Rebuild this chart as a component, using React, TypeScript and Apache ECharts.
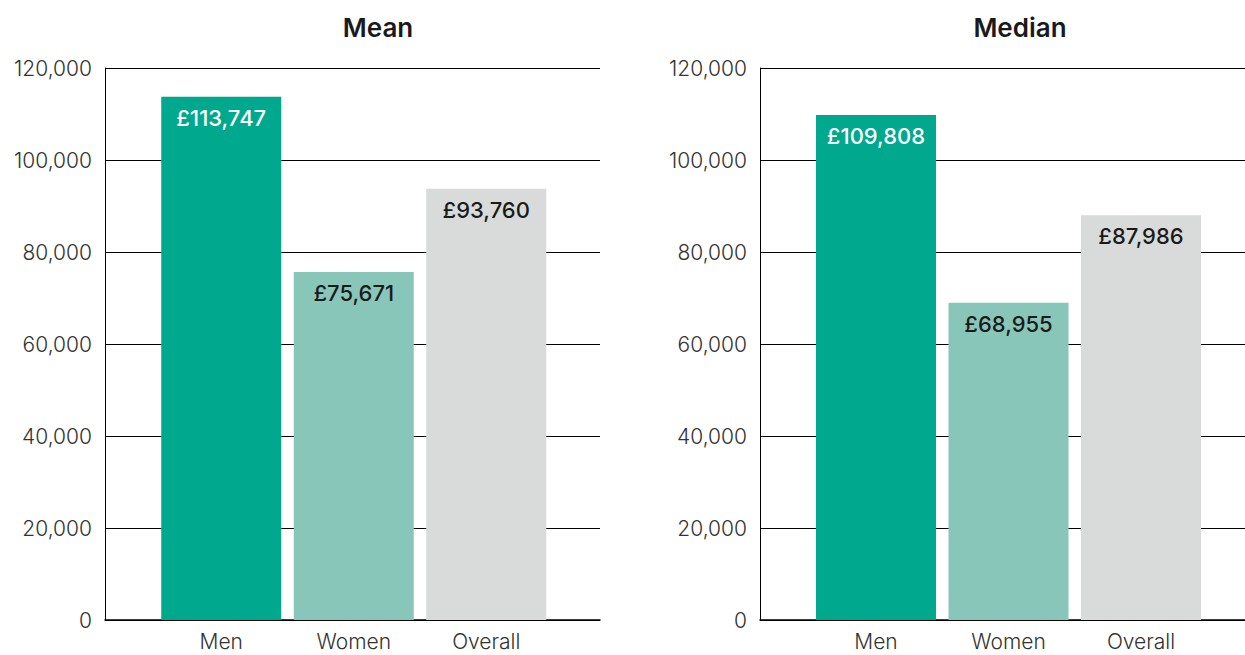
import React, { useEffect, useRef } from "react";
import * as echarts from "echarts";

const categories = ["Men", "Women", "Overall"];
const meanValues = [113747, 75671, 93760];
const medianValues = [109808, 68955, 87986];
const panelTitles = ["Mean", "Median"];
const barColors = ["#00a88e", "#88c6ba", "#d9dada"];
const labelColors = ["#ffffff", "#1a1a1a", "#1a1a1a"];

const fmt = (v: number) => "£" + String(v).replace(/\B(?=(\d{3})+(?!\d))/g, ",");
const axisFmt = (v: number) => String(v).replace(/\B(?=(\d{3})+(?!\d))/g, ",");

const FONT = "Inter";

export default function App() {
  const ref = useRef<HTMLDivElement>(null);
  useEffect(() => {
    document.body.style.margin = "0";
    const chart = echarts.init(ref.current!, null, { renderer: "svg" });
    const outerGrids = [
      { left: 105, width: 495, top: 68, bottom: 35 },
      { left: 760, width: 485, top: 68, bottom: 35 },
    ];
    const innerGrids = [
      { left: 155, width: 397.5, top: 68, bottom: 35 },
      { left: 809.75, width: 397.5, top: 68, bottom: 35 },
    ];
    const grid = [...outerGrids, ...innerGrids];
    const xAxis: any[] = [];
    const yAxis: any[] = [];
    for (let i = 0; i < 2; i++) {
      xAxis.push({
        type: "value",
        gridIndex: i,
        min: 0,
        max: 1,
        axisLine: { show: true, lineStyle: { color: "#000", width: 1.5 } },
        axisTick: { show: false },
        axisLabel: { show: false },
        splitLine: { show: false },
      });
      yAxis.push({
        type: "value",
        gridIndex: i,
        min: 0,
        max: 120000,
        interval: 20000,
        axisLine: { show: true, lineStyle: { color: "#000", width: 1 } },
        axisTick: { show: false },
        axisLabel: {
          margin: 13,
          fontFamily: FONT,
          fontSize: 21,
          fontWeight: 300,
          color: "#333",
          formatter: (v: number) => axisFmt(v),
        },
        splitLine: { show: true, lineStyle: { color: "#000", width: 1 } },
      });
    }
    for (let i = 0; i < 2; i++) {
      xAxis.push({
        type: "category",
        gridIndex: 2 + i,
        data: categories,
        axisLine: { show: false },
        axisTick: { show: false },
        axisLabel: {
          margin: 11,
          fontFamily: FONT,
          fontSize: 21,
          lineHeight: 21,
          fontWeight: 300,
          color: "#333",
        },
        splitLine: { show: false },
      });
      yAxis.push({
        type: "value",
        gridIndex: 2 + i,
        min: 0,
        max: 120000,
        interval: 20000,
        show: false,
        splitLine: { show: false },
      });
    }
    const mkSeries = (vals: number[], idx: number) => ({
      type: "bar",
      xAxisIndex: idx,
      yAxisIndex: idx,
      barWidth: 120,
      data: vals.map((v, i) => ({
        value: v,
        itemStyle: { color: barColors[i] },
        label: { color: labelColors[i] },
      })),
      label: {
        show: true,
        position: "insideTop",
        distance: 10,
        fontFamily: FONT,
        fontSize: 22,
        fontWeight: 500,
        formatter: (p: any) => fmt(p.value),
      },
    });
    const titleStyle = {
      fontFamily: FONT,
      fontSize: 26,
      fontWeight: 600,
      fill: "#1a1a1a",
      textAlign: "center",
      textVerticalAlign: "middle",
    };
    chart.setOption({
      animation: false,
      grid,
      xAxis,
      yAxis,
      series: [mkSeries(meanValues, 2), mkSeries(medianValues, 3)],
      graphic: [
        { type: "text", x: 378, y: 27, style: { ...titleStyle, text: panelTitles[0] } },
        { type: "text", x: 1020, y: 27, style: { ...titleStyle, text: panelTitles[1] } },
      ],
    });
    return () => chart.dispose();
  }, []);
  return <div ref={ref} style={{ width: 1245, height: 655 }} />;
}
